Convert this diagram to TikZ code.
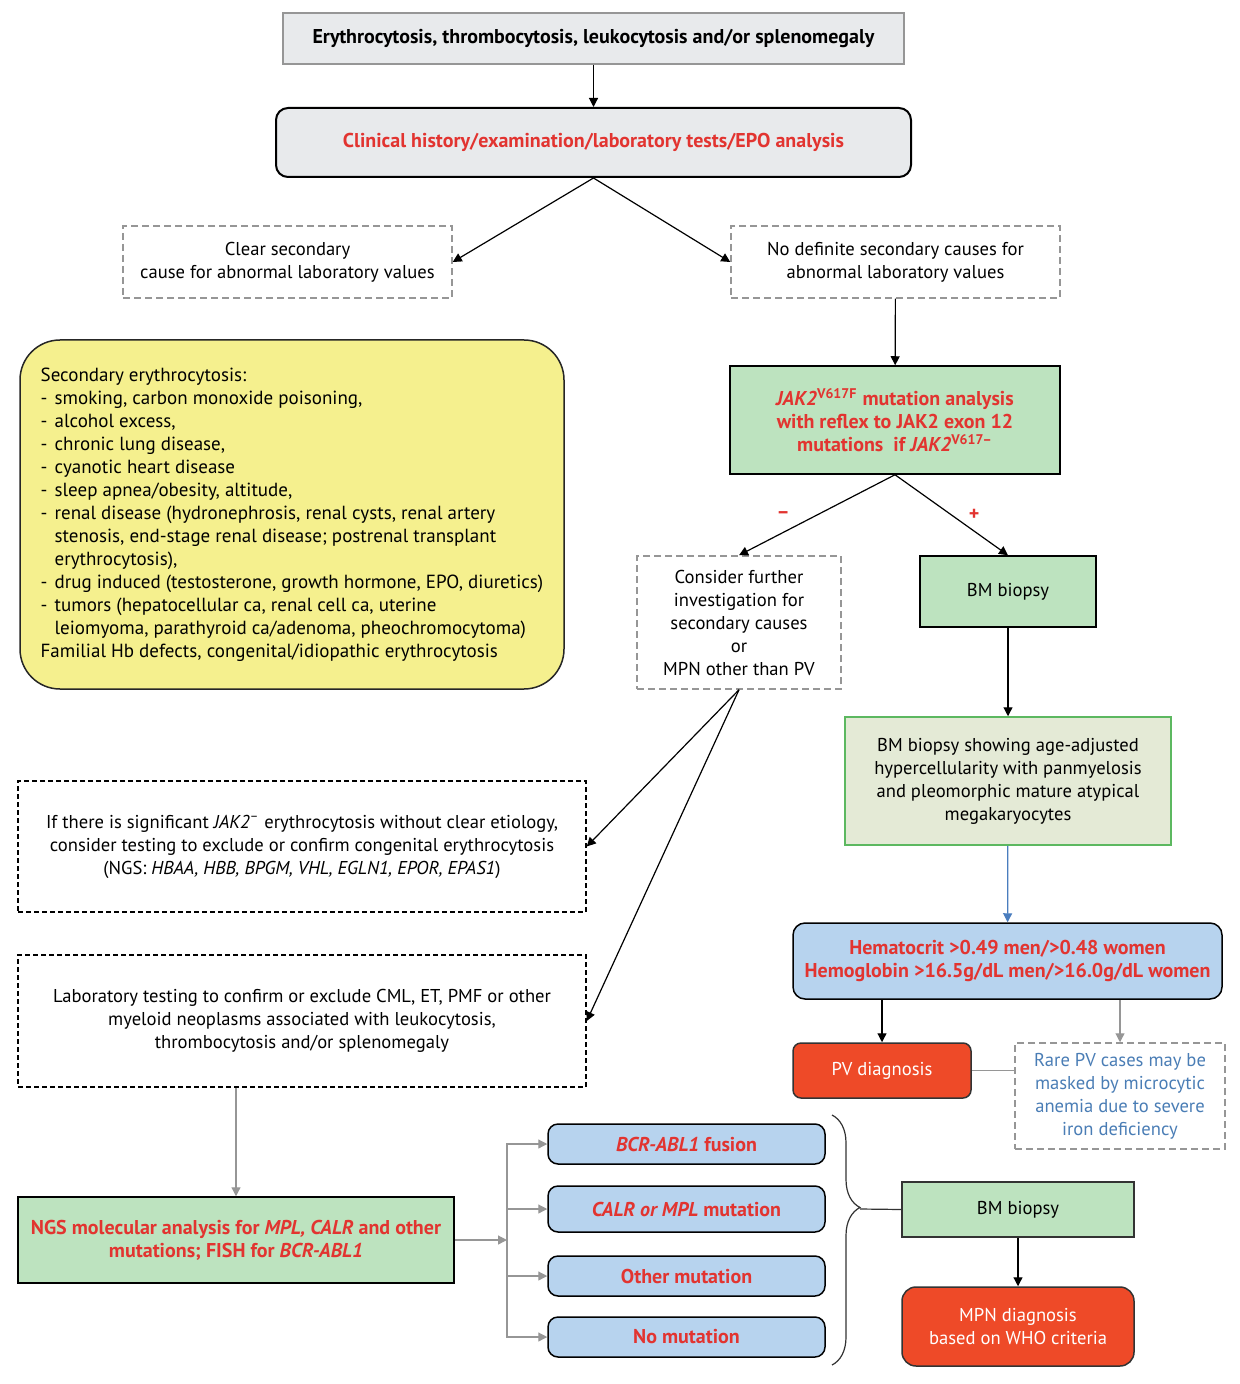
\documentclass[tikz,border=0pt]{standalone}
\usepackage{fontspec}
\setmainfont{PT Sans}
\usetikzlibrary{arrows.meta,shapes,decorations.pathreplacing}

\definecolor{myred}{RGB}{226,52,48}
\definecolor{boxgray}{RGB}{232,234,236}
\definecolor{boxgreen}{RGB}{189,227,191}
\definecolor{boxolive}{RGB}{228,234,214}
\definecolor{linegreen}{RGB}{92,184,96}
\definecolor{boxblue}{RGB}{183,211,238}
\definecolor{boxorange}{RGB}{238,74,40}
\definecolor{boxyellow}{RGB}{245,240,142}
\definecolor{textblue}{RGB}{74,125,181}
\definecolor{arrowblue}{RGB}{74,125,190}
\definecolor{linegray}{RGB}{150,150,150}

\newcommand{\boxfont}{\fontsize{9.3}{11.5}\selectfont}
\newcommand{\boldfont}{\fontsize{10}{11.5}\selectfont\bfseries}
\newcommand{\dashitem}{\makebox[7pt][l]{-}}
\newcommand{\dashgap}{\hspace*{7pt}}

\tikzstyle{every picture}=[x=0.5pt, y=-0.5pt, >={Triangle[length=4.5pt,width=4.5pt]}, font=\boxfont]
\tikzstyle{box}=[draw, align=center, inner sep=2pt, line width=0.75pt]
\tikzstyle{graybox}=[box, fill=boxgray, draw=linegray]
\tikzstyle{dashbox}=[box, draw=linegray, dash pattern=on 3.5pt off 2pt]
\tikzstyle{blackdash}=[box, dash pattern=on 2.5pt off 1.5pt]
\tikzstyle{greenbox}=[box, fill=boxgreen]
\tikzstyle{bluebox}=[box, fill=boxblue, rounded corners=5pt]
\tikzstyle{redbox}=[box, fill=boxorange, draw=black!80, rounded corners=6pt, text=white]
\tikzstyle{redtext}=[text=myred, font=\boldfont]
\tikzstyle{link}=[->, line width=0.6pt]
\tikzstyle{graylink}=[->, line width=0.6pt, draw=linegray]

\begin{document}
\begin{tikzpicture}
	\useasboundingbox (0,0) rectangle (1239,1384);

	% top part
	\node[graybox, minimum width=310.5pt, minimum height=25.5pt, font=\boldfont] (top) at (593.5,38.5)
		{Erythrocytosis, thrombocytosis, leukocytosis and/or splenomegaly};
	\node[graybox, redtext, draw=black, line width=1pt, rounded corners=6pt,%
		minimum width=317.5pt, minimum height=34.5pt] (clin) at (593.5,142.5)
		{Clinical history/examination/laboratory tests/EPO analysis};
	\node[dashbox, minimum width=164.5pt, minimum height=36pt] (clear) at (287.5,262)
		{Clear secondary\\cause for abnormal laboratory values};
	\node[dashbox, minimum width=164.5pt, minimum height=36pt] (nodef) at (895.5,262)
		{No definite secondary causes for\\abnormal laboratory values};

	% secondary causes
	\node[box, fill=boxyellow, draw=black!85, rounded corners=20pt, align=left,%
		font=\fontsize{9.5}{11.5}\selectfont, minimum width=272pt, minimum height=174.5pt] (sec) at (292,514.5)
		{Secondary erythrocytosis:\\%
		\dashitem smoking, carbon monoxide poisoning,\\%
		\dashitem alcohol excess,\\%
		\dashitem chronic lung disease,\\%
		\dashitem cyanotic heart disease\\%
		\dashitem sleep apnea/obesity, altitude,\\%
		\dashitem renal disease (hydronephrosis, renal cysts, renal artery\\%
		\dashgap stenosis, end-stage renal disease; postrenal transplant\\%
		\dashgap erythrocytosis),\\%
		\dashitem drug induced (testosterone, growth hormone, EPO, diuretics)\\%
		\dashitem tumors (hepatocellular ca, renal cell ca, uterine\\%
		\dashgap leiomyoma, parathyroid ca/adenoma, pheochromocytoma)\\%
		Familial Hb defects, congenital/idiopathic erythrocytosis};

	% JAK2 branch
	\node[greenbox, redtext, minimum width=165pt, minimum height=54pt] (jak) at (895,420)
		{\textit{JAK2}\textsuperscript{V617F} mutation analysis\\%
		with reflex to JAK2 exon 12\\%
		mutations\ \ if \textit{JAK2}\textsuperscript{V617--}};
	\node[dashbox, minimum width=102pt, minimum height=66.5pt] (cons) at (739,622.5)
		{Consider further\\investigation for\\secondary causes\\or\\MPN other than PV};
	\node[greenbox, minimum width=88pt, minimum height=35.5pt] (bma) at (1008,591.5) {BM biopsy};
	\node[box, fill=boxolive, draw=linegreen, minimum width=163pt, minimum height=64pt] (bms) at (1008,781)
		{BM biopsy showing age-adjusted\\hypercellularity with panmyelosis\\%
		and pleomorphic mature atypical\\megakaryocytes};
	\node[bluebox, redtext, rounded corners=6pt, minimum width=214.5pt, minimum height=38pt] (hem) at (1007.5,961)
		{Hematocrit >0.49 men/>0.48 women\\Hemoglobin >16.5g/dL men/>16.0g/dL women};
	\node[redbox, rounded corners=4pt, minimum width=89pt, minimum height=27.5pt] (pv) at (882,1070.5) {PV diagnosis};
	\node[dashbox, text=textblue, minimum width=105pt, minimum height=53pt] (rare) at (1120,1096)
		{Rare PV cases may be\\masked by microcytic\\anemia due to severe\\iron deficiency};

	% left column
	\node[blackdash, minimum width=284pt, minimum height=65.5pt] (ifb) at (302,846.5)
		{If there is significant \textit{JAK2}\textsuperscript{--} erythrocytosis without clear etiology,\\%
		consider testing to exclude or confirm congenital erythrocytosis\\%
		(NGS: \textit{HBAA, HBB, BPGM, VHL, EGLN1, EPOR, EPAS1})};
	\node[blackdash, minimum width=284pt, minimum height=66pt] (lab) at (302,1021)
		{Laboratory testing to confirm or exclude CML, ET, PMF or other\\%
		myeloid neoplasms associated with leukocytosis,\\%
		thrombocytosis and/or splenomegaly};
	\node[greenbox, redtext, minimum width=218pt, minimum height=43pt] (ngs) at (236,1240)
		{NGS molecular analysis for \textit{MPL, CALR} and other\\mutations; FISH for \textit{BCR-ABL1}};

	% mutation results
	\node[bluebox, redtext, minimum width=138.5pt, minimum height=20pt] (bcr) at (686.5,1144) {\textit{BCR-ABL1} fusion};
	\node[bluebox, redtext, minimum width=138.5pt, minimum height=23pt] (calr) at (686.5,1209) {\textit{CALR or MPL} mutation};
	\node[bluebox, redtext, minimum width=138.5pt, minimum height=20pt] (oth) at (686.5,1276) {Other mutation};
	\node[bluebox, redtext, minimum width=138.5pt, minimum height=20pt] (nomut) at (686.5,1337) {No mutation};
	\node[greenbox, draw=black!80, minimum width=116pt, minimum height=27.5pt] (bmb) at (1018,1209.5) {BM biopsy};
	\node[redbox, rounded corners=7pt, minimum width=116pt, minimum height=39.5pt] (mpn) at (1018,1326.5)
		{MPN diagnosis\\based on WHO criteria};

	\coordinate (split) at (507,1240);
	\coordinate (bracetop) at (832,1115);
	\coordinate (bracebot) at (832,1365);
	\coordinate (bracetip) at (860,1209);

	% connectors
	\draw[link] (top) -- (clin);
	\draw[link] (clin.south) -- (clear.east);
	\draw[link] (clin.south) -- (nodef.west);
	\draw[link] (nodef) -- (jak);
	\draw[link] (jak.south) -- node[midway, left=10pt, text=myred, font=\boldfont] {--} (cons.north);
	\draw[link] (jak.south) -- node[midway, right=5pt, text=myred, font=\boldfont] {+} (bma.north);
	\draw[link] (bma) -- (bms);
	\draw[link, draw=arrowblue, fill=arrowblue] (bms) -- (hem);
	\draw[link] (pv.north |- hem.south) -- (pv.north);
	\draw[graylink] (rare.north |- hem.south) -- (rare.north);
	\draw[line width=0.6pt, draw=linegray] (pv.east) -- (pv.east -| rare.west);
	\draw[link] (cons.south) -- (ifb.east);
	\draw[link] (cons.south) -- (lab.east);
	\draw[graylink] (ngs.north |- lab.south) -- (ngs.north);
	\draw[graylink] (ngs.east) -- (split);
	\foreach \m in {bcr,calr,oth,nomut}
		\draw[graylink] (split) |- (\m.west);
	\draw[line width=0.6pt, black!80, decorate, decoration={brace, amplitude=14pt, aspect=0.37}]
		(bracetop) -- (bracebot);
	\draw[line width=0.6pt, black!80] (bracetip) -- (bmb.west);
	\draw[link] (bmb) -- (mpn);
\end{tikzpicture}
\end{document}
